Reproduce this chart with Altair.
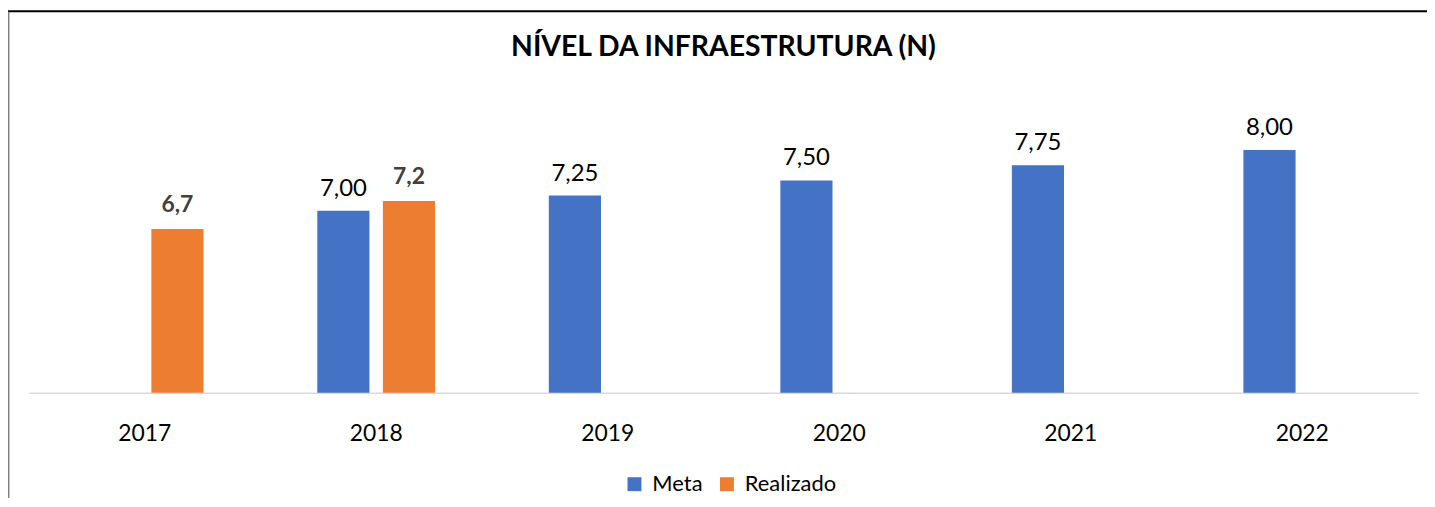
import altair as alt
import pandas as pd

years = ["2017", "2018", "2019", "2020", "2021", "2022"]
meta = [None, 7.00, 7.25, 7.50, 7.75, 8.00]
realizado = [6.7, 7.16, None, None, None, None]
series = ["Meta", "Realizado"]
colors = ["#4472C4", "#ED7D31"]
title_text = "NÍVEL DA INFRAESTRUTURA (N)"

rows = []
for i, yr in enumerate(years):
    if meta[i] is not None:
        rows.append({"ano": yr, "serie": "Meta", "valor": meta[i]})
    if realizado[i] is not None:
        rows.append({"ano": yr, "serie": "Realizado", "valor": realizado[i]})
df = pd.DataFrame(rows)

W, H = 1397, 305
FONT = "Lato"

x_enc = alt.X(
    "ano:N",
    scale=alt.Scale(domain=years, paddingInner=0, paddingOuter=0),
    axis=alt.Axis(title=None, labelAngle=0, ticks=False, domainColor="#d9d9d9",
                  domainWidth=1.5, labelFontSize=23, labelFont=FONT,
                  labelColor="#000000", labelPadding=30, grid=False),
)
xoff_enc = alt.XOffset("serie:N", scale=alt.Scale(domain=series, paddingInner=0.205, paddingOuter=0.867))
y_enc = alt.Y("valor:Q", scale=alt.Scale(domain=[4, 9], zero=False, nice=False), axis=None)

base = alt.Chart(df).encode(x=x_enc, xOffset=xoff_enc, y=y_enc)

bars = base.mark_bar().encode(
    y2=alt.datum(4),
    color=alt.Color(
        "serie:N",
        scale=alt.Scale(domain=series, range=colors),
        legend=alt.Legend(
            title=None, orient="none", legendX=598, legendY=386, direction="horizontal",
            symbolType="square", symbolSize=196, symbolStrokeWidth=0,
            labelFontSize=22, labelFont=FONT, labelColor="#000000",
            columnPadding=13, labelOffset=7,
        ),
    ),
)

meta_text = base.transform_filter("datum.serie == 'Meta'").transform_calculate(
    lbl="replace(format(datum.valor, '.2f'), '.', ',')"
).mark_text(baseline="alphabetic", dy=-15, fontSize=24, font=FONT, color="#000000").encode(
    text="lbl:N"
)

real_text = base.transform_filter("datum.serie == 'Realizado'").transform_calculate(
    lbl="replace(format(datum.valor, '.1f'), '.', ',')"
).mark_text(baseline="alphabetic", dy=-17, fontSize=23, font=FONT, fontWeight="bold",
            color="#404040").encode(text="lbl:N")

single = pd.DataFrame({"t": [title_text]})
title_mark = alt.Chart(single).mark_text(
    baseline="alphabetic", align="center", fontSize=28.5, font=FONT, fontWeight="bold", color="#000000"
).encode(x=alt.value(W / 2), y=alt.value(-33.5), text="t:N")

top_line = alt.Chart(single).mark_rule(color="#000000", strokeWidth=2).encode(
    x=alt.value(-22), x2=alt.value(1406), y=alt.value(-78.5)
)
left_line = alt.Chart(single).mark_rule(color="#7f7f7f", strokeWidth=1.5).encode(
    x=alt.value(-20.3), y=alt.value(-78), y2=alt.value(425)
)

chart = alt.layer(bars, meta_text, real_text, title_mark, top_line, left_line).properties(
    width=W, height=H,
    autosize=alt.AutoSizeParams(type="none"),
    padding={"left": 21, "top": 80.5, "right": 9, "bottom": 104},
).configure_view(strokeWidth=0)

chart.save("out.html", embed_options={"renderer": "svg", "actions": False})
